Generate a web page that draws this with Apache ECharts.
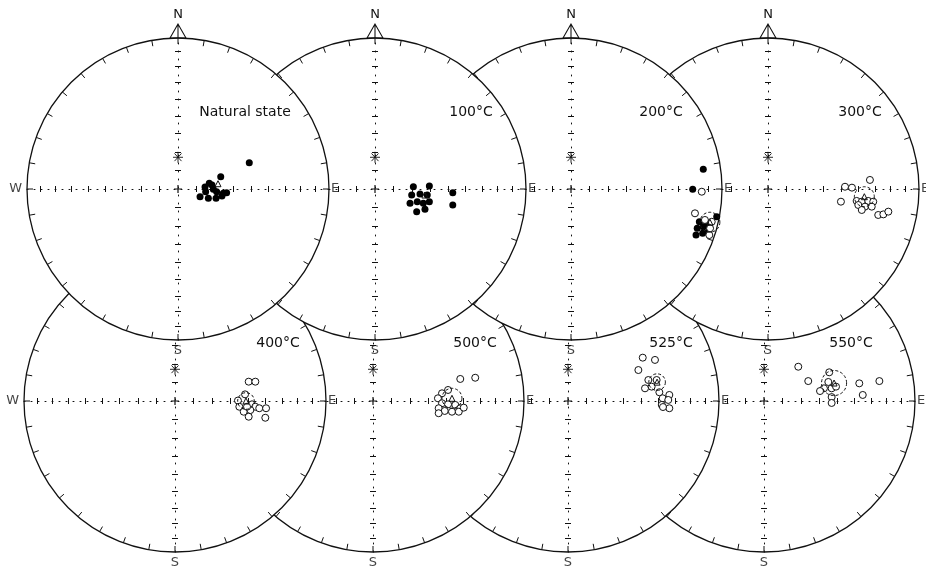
<!DOCTYPE html>
<html>
<head>
<meta charset="utf-8">
<script src="https://cdn.jsdelivr.net/npm/echarts@6/dist/echarts.min.js"></script>
<style>html,body{margin:0;padding:0;background:#fff}#chart{width:926px;height:570px}</style>
</head>
<body>
<div id="chart"></div>
<script>
// ---------------- data (equal-area projection, unit = net radius; x = east, y = north) ----------------
const panelTitles = ['Natural state', '100°C', '200°C', '300°C', '400°C', '500°C', '525°C', '550°C'];
const compassLetters = ['N', 'E', 'S', 'W'];
const tickInclinations = [10, 20, 30, 40, 50, 60, 70, 80];
const referenceDirection = [0, 0.21];

const naturalFilled = [[0.472,0.174],[0.283,0.081],[0.207,0.038],[0.179,0.013],[0.234,-0.002],[0.300,-0.028],[0.183,-0.018],[0.146,-0.051],[0.201,-0.062],[0.252,-0.062],[0.291,-0.046],[0.322,-0.025],[0.256,-0.018],[0.225,0.026]];
const filled100 = [[0.254,0.015],[0.360,0.020],[0.243,-0.040],[0.298,-0.033],[0.346,-0.040],[0.232,-0.095],[0.280,-0.084],[0.320,-0.095],[0.360,-0.084],[0.276,-0.150],[0.331,-0.134],[0.515,-0.025],[0.515,-0.106]];
const filled200 = [[0.876,0.130],[0.806,-0.002],[0.965,-0.183],[0.850,-0.217],[0.876,-0.250],[0.836,-0.260],[0.909,-0.283],[0.828,-0.305],[0.872,-0.293],[0.894,-0.232]];
const open200 = [[0.866,-0.018],[0.821,-0.161],[0.887,-0.205],[0.932,-0.217],[0.921,-0.260],[0.916,-0.305]];
const open300 = [[0.510,0.015],[0.556,0.009],[0.675,0.060],[0.483,-0.084],[0.587,-0.079],[0.621,-0.084],[0.664,-0.079],[0.697,-0.084],[0.598,-0.106],[0.642,-0.117],[0.687,-0.117],[0.730,-0.172],[0.764,-0.168],[0.797,-0.150],[0.621,-0.139]];
const open400 = [[0.488,0.128],[0.532,0.128],[0.464,0.044],[0.417,0.003],[0.510,-0.022],[0.532,-0.038],[0.558,-0.048],[0.426,-0.038],[0.455,-0.071],[0.499,-0.060],[0.488,-0.104],[0.603,-0.048],[0.598,-0.111],[0.477,-0.038]];
const open500 = [[0.578,0.146],[0.677,0.154],[0.497,0.073],[0.457,0.051],[0.430,0.018],[0.457,-0.015],[0.497,-0.022],[0.545,-0.026],[0.578,-0.048],[0.435,-0.048],[0.475,-0.066],[0.523,-0.071],[0.568,-0.071],[0.601,-0.044],[0.435,-0.081]];
const open525 = [[0.495,0.287],[0.576,0.272],[0.466,0.205],[0.587,0.139],[0.532,0.139],[0.510,0.084],[0.554,0.095],[0.605,0.058],[0.671,0.040],[0.627,0.018],[0.664,0.007],[0.621,-0.026],[0.671,-0.048],[0.629,-0.040]];
const open550 = [[0.227,0.227],[0.293,0.132],[0.432,0.190],[0.397,0.084],[0.448,0.084],[0.426,0.126],[0.477,0.095],[0.371,0.066],[0.448,0.026],[0.448,-0.013],[0.631,0.117],[0.764,0.132],[0.654,0.040]];

const meanDirections = [[0.265,0.035],[0.330,-0.040],[0.920,-0.220],[0.638,-0.051],[0.470,0.000],[0.523,0.018],[0.590,0.125],[0.464,0.119]];
const alpha95 = [0, 0, 0.066, 0.066, 0.055, 0.066, 0.055, 0.083];

// ---------------- layout ----------------
const R = 151;
const centers = [[178,189],[375,189],[571,189],[768,189],[175,401],[373,401],[568,401],[764,401]];
const titlePos = [[245,112],[471,112],[661,112],[860,112],[278,343],[475,343],[671,343],[851,343]];
const ink = '#111';
const fontFamily = '"DejaVu Sans", sans-serif';

const filledSets = [naturalFilled, filled100, filled200, [], [], [], [], []];
const openSets = [[], [], open200, open300, open400, open500, open525, open550];

const eqArea = inc => Math.SQRT2 * Math.sin((90 - inc) / 2 * Math.PI / 180);
const tickR = tickInclinations.map(eqArea);
const tickValues = tickR.concat(tickR.map(v => -v));

const polar = [], angleAxis = [], radiusAxis = [], grid = [], xAxis = [], yAxis = [], series = [], graphics = [];
const labelStyle = { color: ink, fontFamily: fontFamily, fontSize: 13 };

for (let i = 0; i < 8; i++) {
  const z = 10 + (7 - i) * 10;           // left panels drawn over right, top row over bottom row
  const [cx, cy] = centers[i];
  polar.push({ center: [cx, cy], radius: R });
  radiusAxis.push({
    polarIndex: i, type: 'value', min: 0, max: 1, interval: 1, z: z,
    axisLine: { show: false }, axisTick: { show: false }, axisLabel: { show: false }, splitLine: { show: false },
    splitArea: { show: true, areaStyle: { color: ['#ffffff'] } }
  });
  angleAxis.push({
    polarIndex: i, type: 'value', min: 0, max: 360, interval: 10, startAngle: 90, clockwise: true, z: z + 1,
    axisLine: { lineStyle: { color: ink, width: 1.3 } },
    axisTick: { show: true, inside: true, length: 6, lineStyle: { color: ink, width: 1 } },
    axisLabel: { show: false }, splitLine: { show: false }
  });
  grid.push({ left: cx - R, top: cy - R, width: 2 * R, height: 2 * R });
  const tickStyle = { color: ink, width: 1 };
  xAxis.push({
    gridIndex: i, type: 'value', min: -1, max: 1, position: 'bottom', z: z + 2,
    axisLine: { show: true, onZero: true, onZeroAxisIndex: 2 * i, lineStyle: { color: ink, width: 1, type: [1, 6] } },
    axisTick: { show: true, inside: false, length: 3, customValues: tickValues, lineStyle: tickStyle },
    axisLabel: { show: false }, splitLine: { show: false }
  });
  xAxis.push({
    gridIndex: i, type: 'value', min: -1, max: 1, position: 'top', z: z + 2,
    axisLine: { show: false, onZero: true, onZeroAxisIndex: 2 * i },
    axisTick: { show: true, inside: false, length: 3, customValues: tickValues, lineStyle: tickStyle },
    axisLabel: { show: false }, splitLine: { show: false }
  });
  yAxis.push({
    gridIndex: i, type: 'value', min: -1, max: 1, position: 'left', z: z + 2,
    axisLine: { show: true, onZero: true, onZeroAxisIndex: 2 * i, lineStyle: { color: ink, width: 1, type: [1, 7] } },
    axisTick: { show: true, inside: false, length: 3, customValues: tickValues, lineStyle: tickStyle },
    axisLabel: { show: false }, splitLine: { show: false }
  });
  yAxis.push({
    gridIndex: i, type: 'value', min: -1, max: 1, position: 'right', z: z + 2,
    axisLine: { show: false, onZero: true, onZeroAxisIndex: 2 * i },
    axisTick: { show: true, inside: false, length: 3, customValues: tickValues, lineStyle: tickStyle },
    axisLabel: { show: false }, splitLine: { show: false }
  });

  const base = { type: 'scatter', xAxisIndex: 2 * i, yAxisIndex: 2 * i, clip: false, silent: true, animation: false };
  // north arrow + N
  series.push(Object.assign({}, base, {
    z: z + 3, symbol: 'path://M8,0L0,14L16,14Z M8,0L8,14', symbolSize: [16, 14], symbolOffset: [0, -7],
    itemStyle: { color: 'transparent', borderColor: ink, borderWidth: 1, opacity: 1 },
    label: Object.assign({ show: true, position: 'top', distance: 2, formatter: compassLetters[0] }, labelStyle),
    data: [[0, 1]]
  }));
  // E, S, W letters
  const edgePts = [[1, 0, 'right', 2], [0, -1, 'bottom', 4], [-1, 0, 'left', 5]];
  series.push(Object.assign({}, base, {
    z: z + 3, symbolSize: 0,
    data: edgePts.map((p, k) => ({
      value: [p[0], p[1]],
      label: Object.assign({ show: true, position: p[2], distance: p[3], formatter: compassLetters[k + 1] }, labelStyle)
    }))
  }));
  // centre cross
  series.push(Object.assign({}, base, {
    z: z + 3, symbol: 'path://M4,0L4,8M0,4L8,4', symbolSize: 8,
    itemStyle: { color: 'transparent', borderColor: ink, borderWidth: 1.2, opacity: 1 }, data: [[0, 0]]
  }));
  // reference direction asterisk
  series.push(Object.assign({}, base, {
    z: z + 3, symbol: 'path://M5,0L5,10M0,5L10,5M1.5,1.5L8.5,8.5M1.5,8.5L8.5,1.5', symbolSize: [10, 11],
    itemStyle: { color: 'transparent', borderColor: ink, borderWidth: 0.9, opacity: 1 }, data: [referenceDirection]
  }));
  // lower hemisphere (filled)
  if (filledSets[i].length) series.push(Object.assign({}, base, {
    z: z + 4, symbol: 'circle', symbolSize: 7, itemStyle: { color: '#000', opacity: 1 }, data: filledSets[i]
  }));
  // upper hemisphere (open)
  if (openSets[i].length) series.push(Object.assign({}, base, {
    z: z + 4, symbol: 'circle', symbolSize: 7,
    itemStyle: { color: '#fff', borderColor: ink, borderWidth: 1, opacity: 1 }, data: openSets[i]
  }));
  // mean direction
  series.push(Object.assign({}, base, {
    z: z + 5, symbol: 'triangle', symbolSize: 6,
    itemStyle: { color: 'transparent', borderColor: ink, borderWidth: 1, opacity: 1 }, data: [meanDirections[i]]
  }));
  // alpha-95 cone
  if (alpha95[i] > 0) series.push(Object.assign({}, base, {
    z: z + 5, symbol: 'circle', symbolSize: alpha95[i] * 2 * R,
    itemStyle: { color: 'transparent', borderColor: ink, borderWidth: 1, borderType: [3, 2], opacity: 1 },
    data: [meanDirections[i]]
  }));

  graphics.push({
    type: 'text', x: titlePos[i][0], y: titlePos[i][1], z: z + 6, silent: true,
    style: { text: panelTitles[i], fill: ink, font: '14px ' + fontFamily, align: 'center', verticalAlign: 'middle' }
  });
}

const chart = echarts.init(document.getElementById('chart'), null, { renderer: 'canvas' });
chart.setOption({
  animation: false,
  backgroundColor: '#fff',
  polar, angleAxis, radiusAxis, grid, xAxis, yAxis, series,
  graphic: { elements: graphics }
});
</script>
</body>
</html>
